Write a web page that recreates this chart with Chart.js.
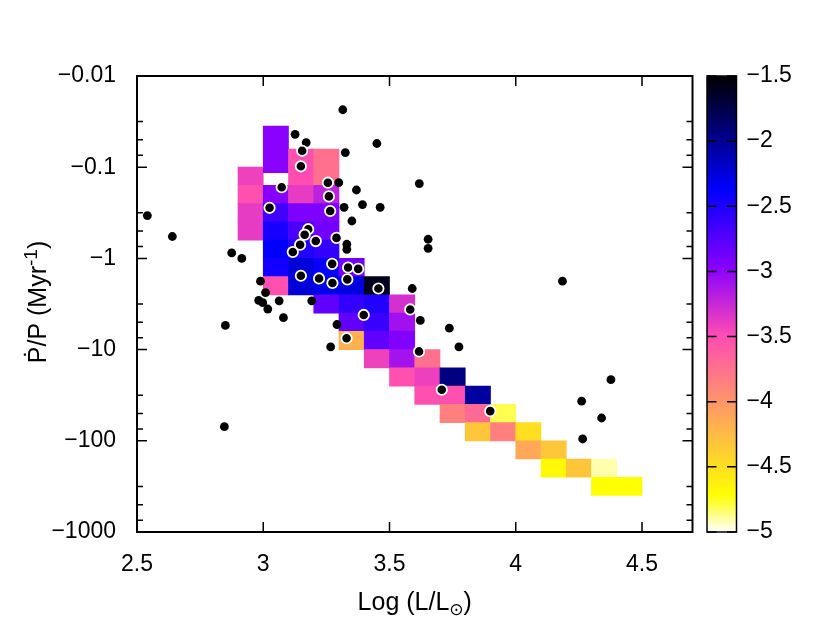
<!DOCTYPE html>
<html>
<head>
    <title>Period change rate vs luminosity</title>
    <script src="https://cdn.jsdelivr.net/npm/chart.js"></script>
    <style>body { margin: 0; background: #fff; }</style>
</head>
<body>
    <canvas id="rateChart" width="830" height="639"></canvas>

    <script>
        // heatmap bins: left edge in log L, top/bottom edge in log10|Pdot/P|, mean value (colour)
        var binL      = [2.9, 2.9, 2.9, 2.9,
                         3.0, 3.0, 3.0, 3.0, 3.0, 3.0, 3.0,
                         3.1, 3.1, 3.1, 3.1, 3.1, 3.1, 3.1, 3.1,
                         3.2, 3.2, 3.2, 3.2, 3.2, 3.2, 3.2, 3.2, 3.2,
                         3.3, 3.3, 3.3, 3.3, 3.3,
                         3.4, 3.4, 3.4, 3.4, 3.4,
                         3.5, 3.5, 3.5, 3.5, 3.5,
                         3.6, 3.6, 3.6,
                         3.7, 3.7, 3.7,
                         3.8, 3.8, 3.8,
                         3.9, 3.9,
                         4.0, 4.0,
                         4.1, 4.1,
                         4.2,
                         4.3, 4.3,
                         4.4];
        var binTop    = [-1.0, -0.8, -0.6, -0.4,
                         -1.45, -0.8, -0.6, -0.4, -0.2, 0.0, 0.2,
                         -1.2, -1.0, -0.8, -0.6, -0.4, -0.2, 0.0, 0.2,
                         -1.2, -1.0, -0.8, -0.6, -0.4, -0.2, 0.0, 0.2, 0.4,
                         0.0, 0.2, 0.4, 0.6, 0.8,
                         0.2, 0.4, 0.6, 0.8, 1.0,
                         0.4, 0.6, 0.8, 1.0, 1.2,
                         1.0, 1.2, 1.4,
                         1.2, 1.4, 1.6,
                         1.4, 1.6, 1.8,
                         1.6, 1.8,
                         1.8, 2.0,
                         2.0, 2.2,
                         2.2,
                         2.2, 2.4,
                         2.4];
        var binBottom = [-0.8, -0.6, -0.4, -0.2,
                         -0.94, -0.6, -0.4, -0.2, 0.0, 0.2, 0.4,
                         -1.0, -0.8, -0.6, -0.4, -0.2, 0.0, 0.2, 0.4,
                         -1.0, -0.8, -0.6, -0.4, -0.2, 0.0, 0.2, 0.4, 0.6,
                         0.2, 0.4, 0.6, 0.8, 1.0,
                         0.4, 0.6, 0.8, 1.0, 1.2,
                         0.6, 0.8, 1.0, 1.2, 1.4,
                         1.2, 1.4, 1.6,
                         1.4, 1.6, 1.8,
                         1.6, 1.8, 2.0,
                         1.8, 2.0,
                         2.0, 2.2,
                         2.2, 2.4,
                         2.4,
                         2.4, 2.6,
                         2.6];
        var binValue  = [-3.42, -3.52, -3.38, -3.38,
                         -2.98, -2.96, -2.66, -2.48, -2.38, -2.45, -3.52,
                         -3.52, -3.5, -3.38, -2.93, -2.7, -2.52, -2.24, -2.24,
                         -3.74, -3.74, -3.2, -2.93, -2.87, -2.6, -2.4, -2.3, -2.8,
                         -2.87, -2.27, -2.6, -2.8, -4.18,
                         -1.6, -2.52, -2.62, -2.8, -3.42,
                         -3.3, -3.08, -2.94, -3.1, -3.52,
                         -3.74, -3.41, -3.52,
                         -1.94, -3.52, -3.85,
                         -2.05, -3.7, -4.33,
                         -4.81, -3.85,
                         -4.5, -4.12,
                         -4.33, -4.67,
                         -4.33,
                         -4.91, -4.72,
                         -4.72];

        // individual stars, plain black dots
        var starLogL    = [2.541, 2.64, 3.315, 3.126, 3.17, 3.325, 3.45, 3.299, 3.369, 3.393, 3.463, 3.32, 3.351,
                           3.618, 3.653, 3.653, 2.875, 2.915, 3.331, 3.331, 2.989, 3.009, 2.982, 2.998, 3.018,
                           3.063, 3.08, 3.192, 3.292, 3.267, 3.59, 3.622, 3.737, 3.775, 4.185, 4.377, 4.261,
                           4.34, 4.265, 2.85, 2.846];
        var starLogRate = [-0.47, -0.24, -1.63, -1.36, -1.27, -1.16, -1.26, -0.83, -0.75, -0.59, -0.56, -0.56, -0.41,
                           -0.82, -0.21, -0.11, -0.06, 0.0, -0.155, -0.1, 0.25, 0.375, 0.46, 0.485, 0.555,
                           0.465, 0.65, 0.465, 0.725, 0.97, 0.33, 0.68, 0.765, 0.97, 0.25, 1.33, 1.565,
                           1.75, 1.98, 0.735, 1.845];

        // stars drawn with a white ring
        var ringLogL    = [3.154, 3.149, 3.073, 3.256, 3.26, 3.025, 3.265, 3.178, 3.164, 3.208, 3.146, 3.117, 3.29,
                           3.273, 3.336, 3.376, 3.149, 3.221, 3.274, 3.333, 3.456, 3.582, 3.398, 3.33, 3.617,
                           3.707, 3.899];
        var ringLogRate = [-1.18, -1.01, -0.78, -0.83, -0.68, -0.555, -0.52, -0.32, -0.26, -0.19, -0.15, -0.07, -0.225,
                           0.06, 0.1, 0.115, 0.19, 0.22, 0.27, 0.23, 0.33, 0.56, 0.62, 0.875, 1.02,
                           1.44, 1.675];

        var xTickVals = [2.5, 3, 3.5, 4, 4.5];
        var xTickLabels = ['2.5', '3', '3.5', '4', '4.5'];
        var yTickVals = [-2, -1, 0, 1, 2, 3];
        var yTickLabels = ['\u22120.01', '\u22120.1', '\u22121', '\u221210', '\u2212100', '\u22121000'];
        var yMinorVals = [-1.5, -1.3, -1.13, -0.5, -0.3, -0.13, 0.5, 0.7, 0.87, 1.5, 1.7, 1.87, 2.5, 2.7, 2.87];
        var cbTickVals = [-1.5, -2, -2.5, -3, -3.5, -4, -4.5, -5];
        var cbTickLabels = ['\u22121.5', '\u22122', '\u22122.5', '\u22123', '\u22123.5', '\u22124', '\u22124.5', '\u22125'];
        var cbTop = -1.5, cbBottom = -5;

        var FONT = '"Liberation Sans", Arial, sans-serif';

        function clamp01(v) { return Math.max(0, Math.min(1, v)); }

        // gnuplot rgbformulae 30,31,32
        function palette(v) {
            var g = clamp01((cbTop - v) / (cbTop - cbBottom));
            var r = clamp01(g / 0.32 - 0.78125);
            var gr = clamp01(2 * g - 0.84);
            var b;
            if (g < 0.25) b = 4 * g;
            else if (g < 0.42) b = 1;
            else if (g < 0.92) b = -2 * g + 1.84;
            else b = g / 0.08 - 11.5;
            b = clamp01(b);
            return 'rgb(' + Math.round(r * 255) + ',' + Math.round(gr * 255) + ',' + Math.round(b * 255) + ')';
        }

        var framePlugin = {
            id: 'frame',
            afterDatasetsDraw: function(chart) {
                var ctx = chart.ctx, a = chart.chartArea;
                var xs = chart.scales.x, ys = chart.scales.y;
                ctx.save();
                ctx.strokeStyle = '#000';
                ctx.lineWidth = 1.5;
                ctx.beginPath();
                xTickVals.forEach(function(v) {
                    var px = xs.getPixelForValue(v);
                    ctx.moveTo(px, a.bottom); ctx.lineTo(px, a.bottom - 10);
                    ctx.moveTo(px, a.top); ctx.lineTo(px, a.top + 10);
                });
                yTickVals.forEach(function(v) {
                    var py = ys.getPixelForValue(v);
                    ctx.moveTo(a.left, py); ctx.lineTo(a.left + 10, py);
                    ctx.moveTo(a.right, py); ctx.lineTo(a.right - 10, py);
                });
                yMinorVals.forEach(function(v) {
                    var py = ys.getPixelForValue(v);
                    ctx.moveTo(a.left, py); ctx.lineTo(a.left + 6, py);
                    ctx.moveTo(a.right, py); ctx.lineTo(a.right - 6, py);
                });
                ctx.stroke();
                ctx.lineWidth = 2;
                ctx.strokeRect(a.left, a.top, a.right - a.left, a.bottom - a.top);

                // colour box
                var cx0 = a.right + 14.5, cx1 = cx0 + 29.5;
                var grad = ctx.createLinearGradient(0, a.top, 0, a.bottom);
                for (var i = 0; i <= 60; i++) {
                    grad.addColorStop(i / 60, palette(cbTop + (cbBottom - cbTop) * i / 60));
                }
                ctx.fillStyle = grad;
                ctx.fillRect(cx0, a.top, cx1 - cx0, a.bottom - a.top);
                ctx.lineWidth = 1.5;
                ctx.strokeRect(cx0, a.top, cx1 - cx0, a.bottom - a.top);
                ctx.beginPath();
                ctx.font = '23px ' + FONT;
                ctx.fillStyle = '#000';
                ctx.textAlign = 'left';
                ctx.textBaseline = 'middle';
                cbTickVals.forEach(function(v, k) {
                    var py = a.top + (cbTop - v) / (cbTop - cbBottom) * (a.bottom - a.top);
                    ctx.moveTo(cx0, py); ctx.lineTo(cx0 + 9.5, py);
                    ctx.moveTo(cx1, py); ctx.lineTo(cx1 - 9.5, py);
                    ctx.fillText(cbTickLabels[k], cx1 + 10, py);
                });
                ctx.stroke();

                // axis titles
                ctx.textBaseline = 'alphabetic';
                var big = '25px ' + FONT, small = '17px "DejaVu Sans", ' + FONT;
                ctx.font = big;
                var p1 = 'Log (L/L', p3 = ')';
                var w1 = ctx.measureText(p1).width, w3 = ctx.measureText(p3).width;
                ctx.font = small;
                var w2 = ctx.measureText('\u2299').width;
                var xc = (a.left + a.right) / 2, yb = 610;
                var sx = xc - (w1 + w2 + w3) / 2;
                ctx.font = big;
                ctx.fillText(p1, sx, yb);
                ctx.font = small;
                ctx.fillText('\u2299', sx + w1, yb + 5);
                ctx.font = big;
                ctx.fillText(p3, sx + w1 + w2, yb);

                ctx.save();
                ctx.translate(46, (a.top + a.bottom) / 2 - 2);
                ctx.rotate(-Math.PI / 2);
                var q1 = '\u1E56/P (Myr', q2 = '-1', q3 = ')';
                ctx.font = big;
                var v1 = ctx.measureText(q1).width, v3 = ctx.measureText(q3).width;
                ctx.font = '19px ' + FONT;
                var v2 = ctx.measureText(q2).width;
                var s0 = -(v1 + v2 + v3) / 2;
                ctx.font = big;
                ctx.fillText(q1, s0, 0);
                ctx.font = '19px ' + FONT;
                ctx.fillText(q2, s0 + v1, -9);
                ctx.font = big;
                ctx.fillText(q3, s0 + v1 + v2, 0);
                ctx.restore();

                ctx.restore();
            }
        };

        var cellData = binL.map(function(l, i) {
            return { x: Math.round((l + 0.05) * 1000) / 1000, y: [binTop[i], binBottom[i]] };
        });

        var rateChart = new Chart(document.getElementById('rateChart'), {
            type: 'scatter',
            data: {
                datasets: [{
                    type: 'scatter',
                    data: ringLogL.map(function(x, i) { return { x: x, y: ringLogRate[i] }; }),
                    pointRadius: 5.2,
                    pointBackgroundColor: '#000',
                    pointBorderColor: '#fff',
                    pointBorderWidth: 1.8,
                    order: 1
                }, {
                    type: 'scatter',
                    data: starLogL.map(function(x, i) { return { x: x, y: starLogRate[i] }; }),
                    pointRadius: 4.4,
                    pointBackgroundColor: '#000',
                    pointBorderWidth: 0,
                    order: 2
                }, {
                    type: 'bar',
                    data: cellData,
                    backgroundColor: binValue.map(palette),
                    borderWidth: 0,
                    barPercentage: 1,
                    categoryPercentage: 1,
                    grouped: false,
                    order: 3
                }]
            },
            options: {
                responsive: false,
                animation: false,
                events: [],
                layout: { padding: { top: 76, right: 137.5, bottom: 0, left: 0 } },
                plugins: { legend: { display: false }, tooltip: { enabled: false } },
                scales: {
                    x: {
                        type: 'linear',
                        min: 2.5,
                        max: 4.7,
                        offset: false,
                        grid: { display: false, drawTicks: false },
                        border: { display: false },
                        afterBuildTicks: function(s) { s.ticks = xTickVals.map(function(v) { return { value: v }; }); },
                        afterFit: function(s) { s.height = 107; },
                        ticks: {
                            autoSkip: false,
                            maxRotation: 0,
                            padding: 19,
                            color: '#000',
                            font: { family: FONT, size: 23 },
                            callback: function(v) { return xTickLabels[xTickVals.indexOf(v)]; }
                        }
                    },
                    y: {
                        type: 'linear',
                        min: -2,
                        max: 3,
                        reverse: true,
                        grid: { display: false, drawTicks: false },
                        border: { display: false },
                        afterBuildTicks: function(s) { s.ticks = yTickVals.map(function(v) { return { value: v }; }); },
                        afterFit: function(s) { s.width = 137; },
                        ticks: {
                            autoSkip: false,
                            padding: 21,
                            color: '#000',
                            font: { family: FONT, size: 23 },
                            callback: function(v) { return yTickLabels[yTickVals.indexOf(v)]; }
                        }
                    }
                }
            },
            plugins: [framePlugin]
        });
    </script>
</body>
</html>
